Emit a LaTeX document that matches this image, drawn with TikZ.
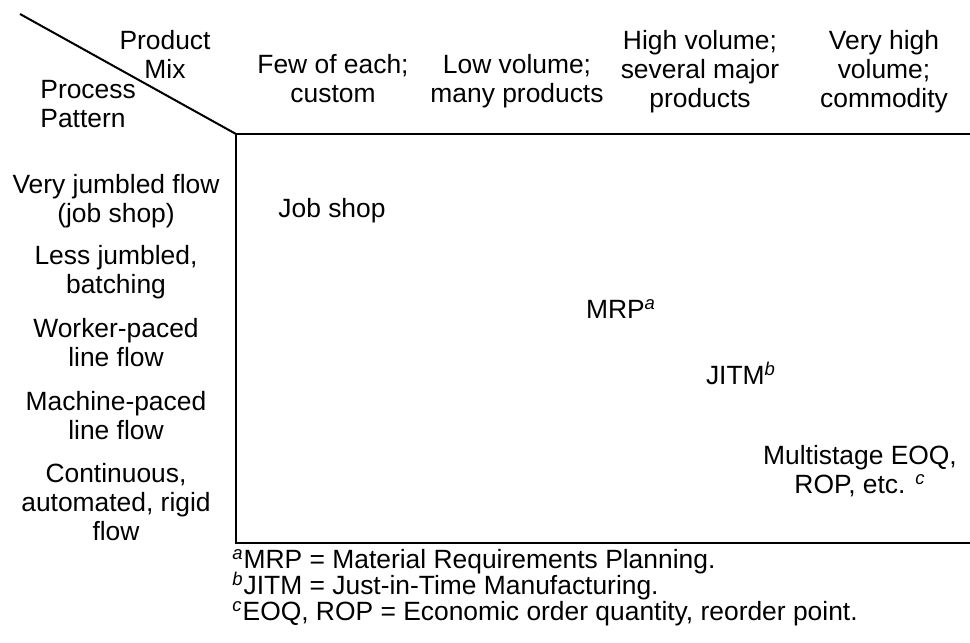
\documentclass[tikz,border=0pt]{standalone}
\usepackage{fontspec}
\setmainfont{Liberation Sans}
\lineskiplimit=-20pt

\tikzset{
  txt/.style={inner sep=0pt, font=\fontsize{13.2}{14.5}\selectfont},
  colhead/.style={txt, align=center, anchor=base},
  rowlabel/.style={txt, align=center, anchor=base},
  entry/.style={txt, align=center, anchor=base},
  notes/.style={txt, anchor=base west},
  frame/.style={line width=1pt}
}
\newcommand{\fnmark}[1]{\textsuperscript{\itshape #1}}

\begin{document}
\begin{tikzpicture}[x=0.5pt,y=-0.5pt]
    \useasboundingbox (0,0) rectangle (970,643);

    % Corners of the matrix
    \coordinate (D) at (20,14);
    \coordinate (C) at (236,134);
    \coordinate (TR) at (970,134);
    \coordinate (BL) at (236,543);
    \coordinate (BR) at (970,543);

    % Diagonal in the corner cell and the frame
    \draw[frame] (D) -- (C);
    \draw[frame] (TR) -- (C) -- (BL) -- (BR);

    % Corner labels (base = baseline of the last line)
    \node[colhead] (mix) at (165,78) {Product\\Mix};
    \node[txt, align=left, anchor=base west] (pattern) at (40,127) {Process\\Pattern};

    % Column heads (product mix)
    \node[colhead] (few) at (333,102) {Few of each;\\custom};
    \node[colhead] (low) at (517,102) {Low volume;\\many products};
    \node[colhead] (high) at (700,107) {High volume;\\several major\\products};
    \node[colhead] (vhigh) at (884,107) {Very high\\volume;\\commodity};

    % Row labels (process pattern)
    \node[rowlabel] (jumbled) at (116,222) {Very jumbled flow\\(job shop)};
    \node[rowlabel] (batch) at (116,293) {Less jumbled,\\batching};
    \node[rowlabel] (worker) at (116,366) {Worker-paced\\line flow};
    \node[rowlabel] (machine) at (116,439) {Machine-paced\\line flow};
    \node[rowlabel] (cont) at (116,540) {Continuous,\\automated, rigid\\flow};

    % Entries on the diagonal
    \node[entry] (job) at (332,217) {Job shop};
    \node[entry] (mrp) at (621,318) {MRP\fnmark{a}};
    \node[entry] (jitm) at (741,384) {JITM\fnmark{b}};
    \node[entry] (eoq) at (860,493) {Multistage EOQ,\\ROP, etc. \fnmark{c}};

    % Footnotes
    \node[notes] (fna) at (232,568) {\fnmark{a}MRP = Material Requirements Planning.};
    \node[notes] (fnb) at (232,594) {\fnmark{b}JITM = Just-in-Time Manufacturing.};
    \node[notes] (fnc) at (232,620) {\fnmark{c}EOQ, ROP = Economic order quantity, reorder point.};

\end{tikzpicture}
\end{document}
